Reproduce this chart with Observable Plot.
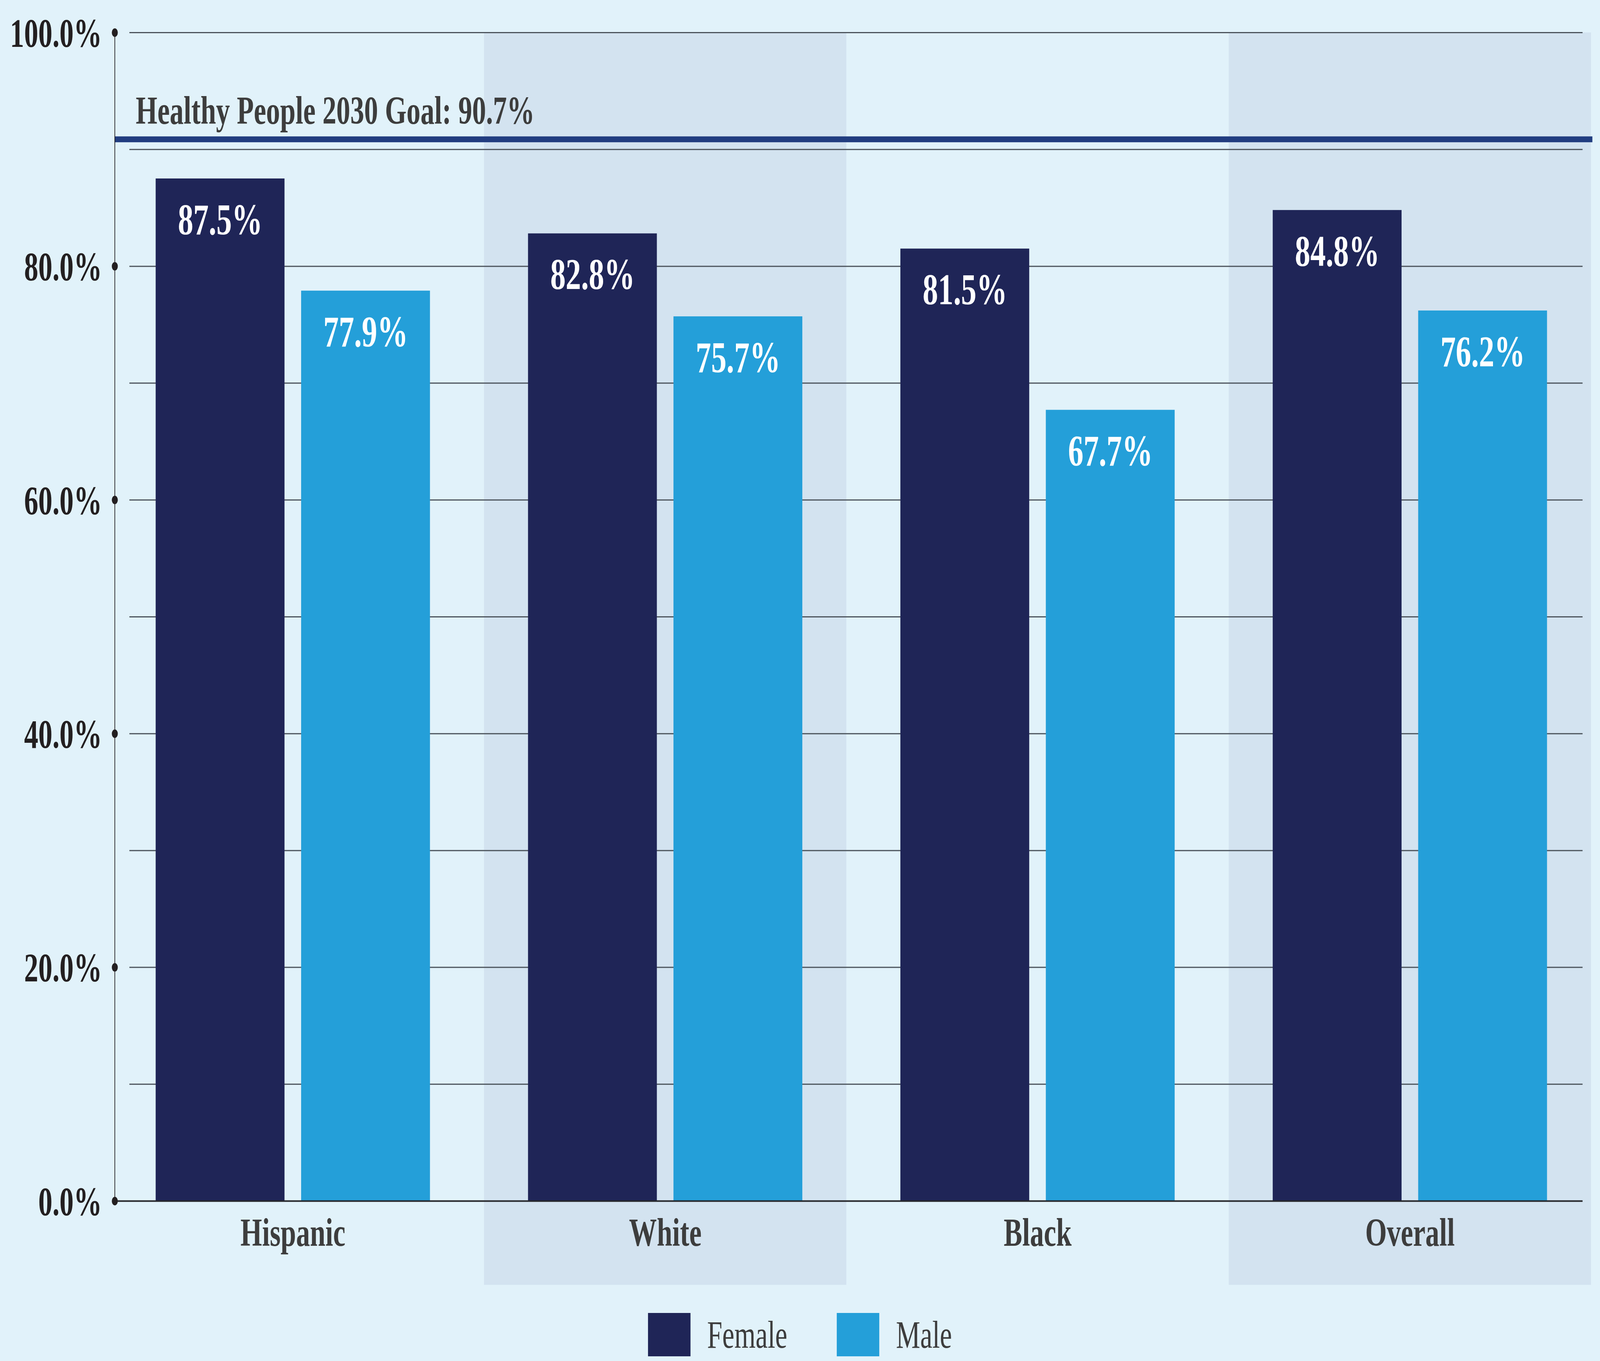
<!DOCTYPE html>
<html>
<head>
<meta charset="utf-8">
<script src="https://cdn.jsdelivr.net/npm/d3@7"></script>
<script src="https://cdn.jsdelivr.net/npm/@observablehq/plot@0.6"></script>
<style>
  html, body { margin: 0; padding: 0; background: #e1f2fa; overflow: hidden; width: 100%; height: 100%; }
  #page { position: absolute; left: 0; top: 0; width: 5874px; height: 3485px; transform-origin: 0 0; background: #e1f2fa; }
  #chart svg { display: block; max-width: none; }
  #legend {
    display: flex; justify-content: center; align-items: center;
    height: 185px; box-sizing: border-box; padding-top: 62px; padding-bottom: 12px;
    font-family: "Liberation Serif", "Times New Roman", serif; font-size: 100px; color: #3d3d3d;
  }
  .sw { width: 156px; height: 111px; margin-right: 61px; }
  .lab { line-height: 111px; }
</style>
</head>
<body>
<div id="page">
  <div id="chart"></div>
  <div id="legend"></div>
</div>
<script>
// ---- data ----
const categories = ["Hispanic", "White", "Black", "Overall"];
const female = [87.5, 82.8, 81.5, 84.8];
const male = [77.9, 75.7, 67.7, 76.2];
const series = ["Female", "Male"];
const seriesColors = ["#1f2557", "#249fd9"];
const yTicks = [0, 20, 40, 60, 80, 100];
const gridTicks = [10, 20, 30, 40, 50, 60, 70, 80, 90, 100];
const goal = 90.7;
const goalLabel = "Healthy People 2030 Goal: 90.7%";
const shadedCategories = ["White", "Overall"];

const femaleRows = categories.map((c, i) => ({category: c, sex: "Female", value: female[i]}));
const maleRows = categories.map((c, i) => ({category: c, sex: "Male", value: male[i]}));
const pct = d => d.value.toFixed(1) + "%";

const W = 5874, H = 3300;
const plot = Plot.plot({
  width: W,
  height: H,
  marginLeft: 410,
  marginRight: 33,
  marginTop: 83,
  marginBottom: 225,
  style: {background: "#e1f2fa", fontFamily: "'Liberation Serif', 'Times New Roman', serif", overflow: "visible"},
  x: {domain: categories, paddingInner: 37 / 1367, paddingOuter: 0, label: null},
  y: {domain: [0, 100], label: null},
  color: {domain: series, range: seriesColors},
  marks: [
    // alternating category shading
    Plot.barY(shadedCategories, {x: d => d, y1: 0, y2: 100, fill: "#d3e3f0", insetBottom: -215}),
    // gridlines
    Plot.ruleY(gridTicks, {y: d => d, stroke: "#4b535b", strokeWidth: 3, insetLeft: 65, insetRight: 31}),
    // bars
    Plot.barY(femaleRows, {x: "category", y: "value", fill: "sex", insetLeft: 161.5, insetRight: 695.5}),
    Plot.barY(maleRows, {x: "category", y: "value", fill: "sex", insetLeft: 695.5, insetRight: 161.5}),
    // baseline
    Plot.ruleY([0], {stroke: "#26272b", strokeWidth: 4, insetLeft: 11, insetRight: 31}),
    // goal line and label
    Plot.ruleY([goal], {y: d => d, dy: -5, stroke: "#213d80", strokeWidth: 15, insetLeft: 11, insetRight: -5}),
    Plot.text([goal], {y: d => d, text: () => goalLabel, frameAnchor: "left", dx: 88, dy: -45,
      textAnchor: "start", lineAnchor: "bottom", fontSize: 102, fontWeight: "bold", fill: "#3d3d3d"}),
    // value labels
    Plot.text(femaleRows, {x: "category", y: "value", text: pct, dx: -267, dy: 62, lineAnchor: "top",
      fill: "white", fontSize: 113, fontWeight: "bold"}),
    Plot.text(maleRows, {x: "category", y: "value", text: pct, dx: 267, dy: 62, lineAnchor: "top",
      fill: "white", fontSize: 113, fontWeight: "bold"}),
    // y axis
    Plot.frame({anchor: "left", dx: 11, stroke: "#231f20", strokeWidth: 2.5}),
    Plot.dot(yTicks, {y: d => d, frameAnchor: "left", dx: 11, r: 11, fill: "#231f20", stroke: null}),
    Plot.axisY(yTicks, {tickSize: 0, tickPadding: 36, dy: 3, tickFormat: d => d.toFixed(1) + "%",
      fontSize: 104, fontWeight: "bold", fill: "#231f20", label: null}),
    // x axis
    Plot.axisX({tickSize: 0, tickPadding: 42, fontSize: 102, fontWeight: "bold", fill: "#3d3d3d", label: null})
  ]
});
document.getElementById("chart").appendChild(plot);

// legend
const legend = document.getElementById("legend");
series.forEach((s, i) => {
  const sw = document.createElement("div");
  sw.className = "sw";
  sw.style.background = seriesColors[i];
  const lab = document.createElement("div");
  lab.className = "lab";
  lab.textContent = s;
  if (i < series.length - 1) lab.style.marginRight = "182px";
  legend.appendChild(sw);
  legend.appendChild(lab);
});

// fit the 5874x3485 layout into the actual window
function fit() {
  const sx = window.innerWidth / 5874, sy = window.innerHeight / 3485;
  document.getElementById("page").style.transform = `scale(${sx}, ${sy})`;
}
fit();
window.addEventListener("resize", fit);
</script>
</body>
</html>
